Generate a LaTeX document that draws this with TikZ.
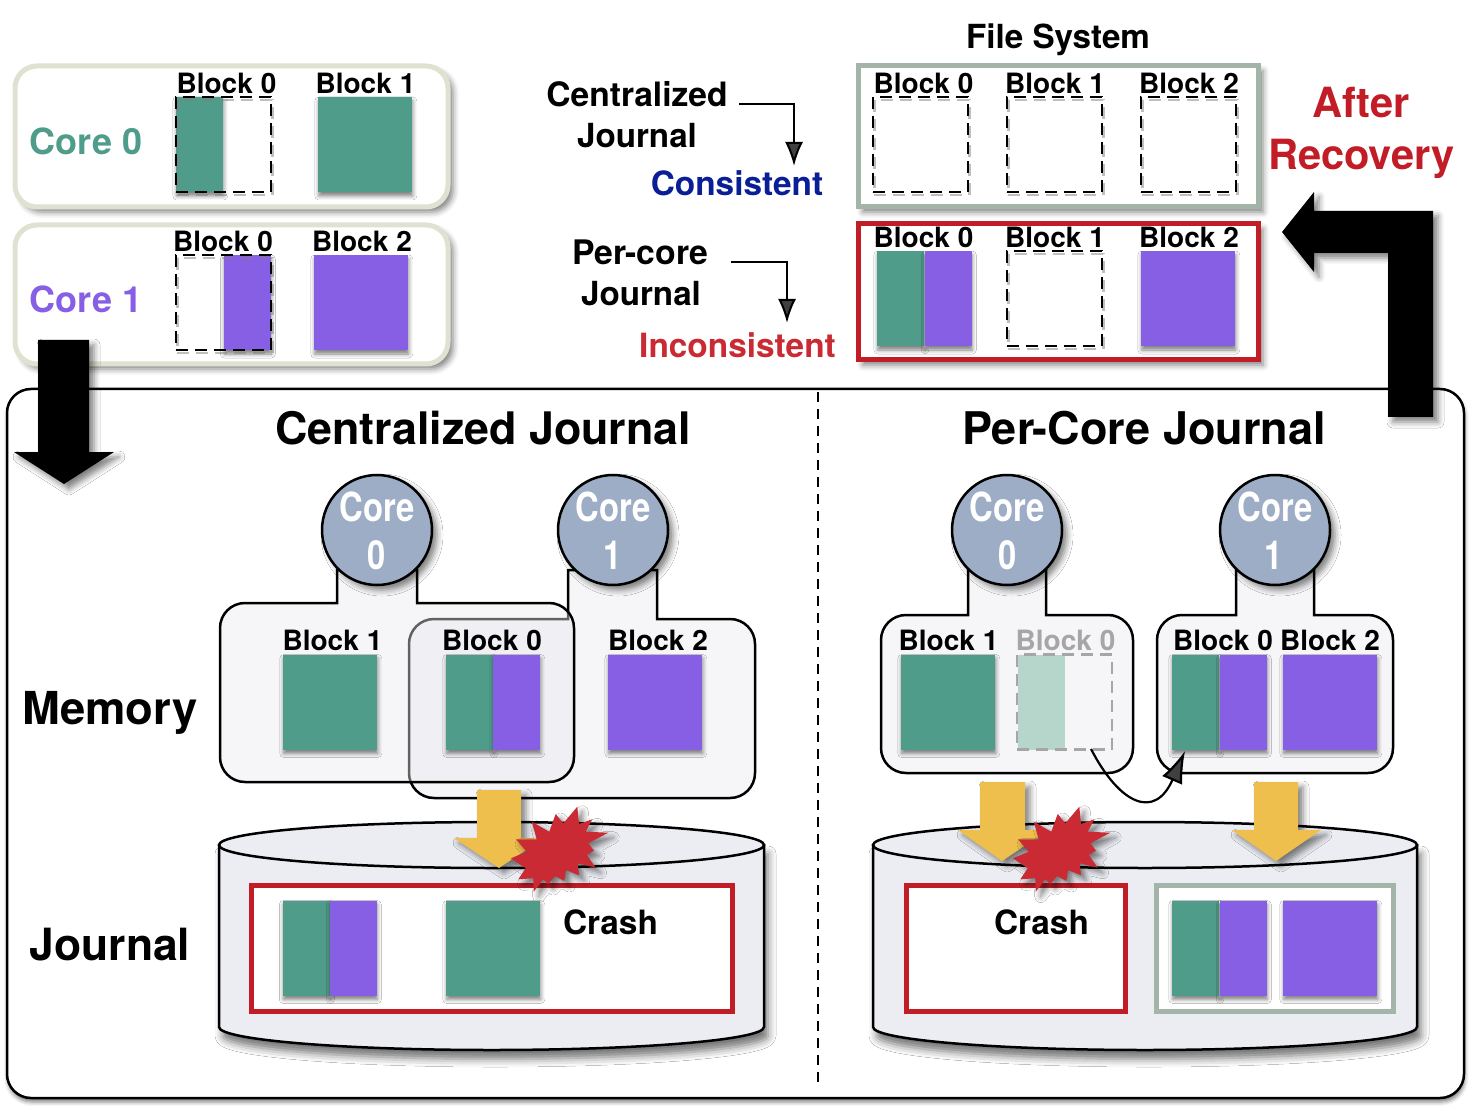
\documentclass[tikz,border=0pt]{standalone}
\usepackage{fontspec}
\setmainfont{TeX Gyre Heros}
\usetikzlibrary{arrows.meta,shadows,shadows.blur}
\definecolor{coregreen}{HTML}{4F9C8A}
\definecolor{corepurple}{HTML}{875FE5}
\definecolor{fadegreen}{HTML}{B6D6CC}
\definecolor{paleolive}{HTML}{DFE2D0}
\definecolor{sagegray}{HTML}{A3B5A8}
\definecolor{crashred}{HTML}{C21C26}
\definecolor{burstred}{HTML}{C92A33}
\definecolor{navytext}{HTML}{0A1F96}
\definecolor{circleblue}{HTML}{9DADC6}
\definecolor{arrowyellow}{HTML}{EFBF4D}
\definecolor{memoryfill}{HTML}{F6F6F9}
\definecolor{overlapfill}{HTML}{EAEAF0}
\definecolor{diskfill}{HTML}{ECEDF2}
\tikzset{
	softshadow/.style={blur shadow={shadow xshift=0.4pt, shadow yshift=-2pt, shadow blur radius=2pt, shadow opacity=50}},
	deepshadow/.style={blur shadow={shadow xshift=2.5pt, shadow yshift=-2.5pt, shadow blur radius=3pt, shadow opacity=50}},
	diskshadow/.style={blur shadow={shadow xshift=2pt, shadow yshift=-4.5pt, shadow blur radius=4pt, shadow opacity=55}},
	labeltext/.style={inner sep=0pt, align=center, font=\bfseries\fontsize{#1}{#1}\selectfont},
	blocklabel/.style={labeltext=14},
	greenblock/.style={fill=coregreen, minimum width=47pt, minimum height=47.5pt, inner sep=0pt, softshadow},
	purpleblock/.style={fill=corepurple, minimum width=47pt, minimum height=47.5pt, inner sep=0pt, softshadow},
	greenhalf/.style={greenblock, minimum width=23.5pt},
	purplehalf/.style={purpleblock, minimum width=23.5pt},
	dashblock/.style={minimum width=47.5pt, minimum height=47.5pt, inner sep=0pt, dash pattern=on 6pt off 3.5pt, line width=1.3pt, draw=black,
		preaction={draw=black!50, draw opacity=0.5, transform canvas={shift={(0.6pt,-1.5pt)}}}},
	corecircle/.style={circle, draw, line width=1.25pt, fill=circleblue, minimum size=55pt, inner sep=0pt, deepshadow},
	corebox/.style={draw=paleolive, line width=2.5pt, fill=white, rounded corners=11pt, deepshadow},
	memorybox/.style={draw, line width=1.25pt, fill=memoryfill},
	overlapbox/.style={draw, line width=1.25pt, fill=overlapfill, fill opacity=0.42},
	diskbody/.style={draw, line width=1.25pt, fill=diskfill},
	bigarrow/.style={fill=black, deepshadow},
	yellowarrow/.style={fill=arrowyellow, deepshadow},
	burstmark/.pic={
		\fill [burstred, deepshadow] (72.3,6.7) -- (74,24) -- (87.3,19.3) -- (80.7,31.7) -- (103.3,32.7) -- (83.3,43.3) -- (89,50.7) -- (81.7,55) -- (90.7,67.7) -- (72.7,63.3) -- (74,75.3) -- (61,70) -- (59.3,81) -- (50,76) -- (43.3,84) -- (38.3,79.3) -- (28.7,91.7) -- (28.3,78.3) -- (13.3,79.3) -- (20.7,68.3) -- (6,58.3) -- (21.7,51.7) -- (11,39.3) -- (31.7,39.3) -- (26.7,21.7) -- (44.3,31.7) -- (50.7,14) -- (58.3,23.3) -- cycle;
	}
}
\newcommand{\thincore}[1]{\scalebox{0.82}[1]{#1}}
\begin{document}
\begin{tikzpicture}[x=0.5pt, y=-0.5pt]
	\useasboundingbox (0,0) rectangle (1470,1106);
	% outer panel
	\draw [line width=1.25pt, fill=white, rounded corners=12pt, softshadow] (7,389) rectangle (1464,1098);
	\coordinate (dividertop) at (818,392);
	\coordinate (dividerbottom) at (818,1082);
	\draw [dash pattern=on 5pt off 3.5pt, line width=0.9pt] (dividertop) -- (dividerbottom);
	\node [labeltext=22.4] (centraltitle) at (483,428) {Centralized Journal};
	\node [labeltext=22.5] (percoretitle) at (1144,428) {Per-Core Journal};
	\node [labeltext=22.7] (memorytext) at (110,713) {Memory};
	\node [labeltext=22.2] (journaltext) at (110,945) {Journal};
	% core 0 and core 1 writes
	\draw [corebox] (15,66) rectangle (448,207);
	\draw [corebox] (15,225) rectangle (448,364);
	\node [labeltext=18, text=coregreen] (coreatext) at (86,141) {Core 0};
	\node [labeltext=18, text=corepurple] (corebtext) at (86,299) {Core 1};
	\node [greenhalf] (corealeft) at (199.5,144.5) {};
	\node [dashblock] (corealabelbox) at (223.5,144.5) {};
	\node [blocklabel] (corealabel) at (226.5,83) {Block 0};
	\node [greenblock] (coreaone) at (365,144.5) {};
	\node [blocklabel] (coreaonelabel) at (365.5,83) {Block 1};
	\node [purplehalf] (corebright) at (247,302.5) {};
	\node [dashblock] (coreblabelbox) at (223.5,302.5) {};
	\node [blocklabel] (coreblabel) at (223,241) {Block 0};
	\node [purpleblock] (corebtwo) at (361,302.5) {};
	\node [blocklabel] (corebtwolabel) at (362,241) {Block 2};
	\fill [bigarrow] (38,340) -- (89,340) -- (89,452) -- (114,452) -- (64,484) -- (14,452) -- (38,452) -- cycle;
	% file system state
	\node [labeltext=16.6] (fstitle) at (1058,40) {File System};
	\draw [draw=sagegray, line width=2.5pt, fill=white, deepshadow] (858,66) rectangle (1258,207);
	\draw [draw=crashred, line width=2.5pt, fill=white, deepshadow] (858,224) rectangle (1258,360);
	\node [dashblock] (fsaa) at (920.5,144.5) {};
	\node [dashblock] (fsab) at (1054.5,144.5) {};
	\node [dashblock] (fsac) at (1188.5,144.5) {};
	\node [blocklabel] (fsaalabel) at (923.5,83) {Block 0};
	\node [blocklabel] (fsablabel) at (1055,83) {Block 1};
	\node [blocklabel] (fsaclabel) at (1189,83) {Block 2};
	\node [greenhalf] (fsbagreen) at (900.5,298.5) {};
	\node [purplehalf] (fsbapurple) at (948,298.5) {};
	\node [dashblock] (fsbb) at (1054.5,298.5) {};
	\node [purpleblock] (fsbc) at (1188,298.5) {};
	\node [blocklabel] (fsbalabel) at (923.5,237) {Block 0};
	\node [blocklabel] (fsbblabel) at (1055,237) {Block 1};
	\node [blocklabel] (fsbclabel) at (1189,237) {Block 2};
	\node [labeltext=16.8] (centralname) at (637,94) {Centralized};
	\node [labeltext=16.6] (centralname2) at (637,136) {Journal};
	\node [labeltext=16.7, text=navytext] (consistenttext) at (737,183) {Consistent};
	\node [labeltext=16.9] (percorename) at (640.5,252) {Per-core};
	\node [labeltext=16.6] (percorename2) at (641,294) {Journal};
	\node [labeltext=16.7, text=burstred] (inconsistenttext) at (737.5,345) {Inconsistent};
	\coordinate (centralstart) at (739,104);
	\coordinate (centralend) at (794,166);
	\coordinate (percorestart) at (731,262);
	\coordinate (percoreend) at (787,323);
	\draw [line width=1pt, -{Latex[length=12pt,width=9pt]}] (centralstart) -| (centralend);
	\draw [line width=1pt, -{Latex[length=12pt,width=9pt]}] (percorestart) -| (percoreend);
	\node [labeltext=20.8, text=crashred] (aftertext) at (1361,103) {After};
	\node [labeltext=20.8, text=crashred] (recoverytext) at (1361.5,159) {Recovery};
	\fill [bigarrow] (1388,417) -- (1388,253) -- (1314,253) -- (1314,272) -- (1282,232) -- (1314,192) -- (1314,211) -- (1433,211) -- (1433,417) -- cycle;
	% centralized journal
	\draw [overlapbox] (568,570) -- (568,619) [rounded corners=12.5pt] -- (409,619) -- (409,798) -- (755,798) -- (755,619) [sharp corners] -- (657,619) -- (657,570) -- cycle;
	\draw [overlapbox] (337,570) -- (337,603) [rounded corners=12.5pt] -- (220,603) -- (220,782) -- (574,782) -- (574,603) [sharp corners] -- (417,603) -- (417,570) -- cycle;
	\node [corecircle] (coreleftA) at (377,530) {};
	\node [corecircle] (coreleftB) at (613,530) {};
	\node [labeltext=20, text=white] (coreleftAtext) at (377,507) {\thincore{Core}};
	\node [labeltext=20, text=white] (coreleftAnum) at (377,555) {\thincore{0}};
	\node [labeltext=20, text=white] (coreleftBtext) at (613,507) {\thincore{Core}};
	\node [labeltext=20, text=white] (coreleftBnum) at (613,555) {\thincore{1}};
	\node [greenblock] (memleftone) at (330,702) {};
	\node [blocklabel] (memleftonelabel) at (332.5,640) {Block 1};
	\node [greenhalf] (memleftzeroa) at (469.5,702) {};
	\node [purplehalf] (memleftzerob) at (516.5,702) {};
	\node [blocklabel] (memleftzerolabel) at (492,640) {Block 0};
	\node [purpleblock] (memlefttwo) at (655,702) {};
	\node [blocklabel] (memlefttwolabel) at (658,640) {Block 2};
	\draw [diskbody, diskshadow] (219,845) -- (219,1027) arc [start angle=180, end angle=360, x radius=136.25pt, y radius=11.5pt] -- (764,845) -- cycle;
	\draw [diskbody] (491.5,845) ellipse [x radius=136.25pt, y radius=11.5pt];
	\fill [yellowarrow] (477,790) -- (521,790) -- (521,838) -- (544,838) -- (499,868) -- (454,838) -- (477,838) -- cycle;
	\draw [draw=crashred, line width=2.5pt, fill=white] (251,885) rectangle (732,1011);
	\pic (crashleft) at (505,800) {burstmark};
	\node [greenhalf] (jleftzeroa) at (306,948) {};
	\node [purplehalf] (jleftzerob) at (353,948) {};
	\node [greenblock] (jleftone) at (493,948) {};
	\node [labeltext=16.7] (crashlefttext) at (610.5,922) {Crash};
	% per-core journal
	\draw [memorybox] (968,570) -- (968,615) [rounded corners=12.5pt] -- (881,615) -- (881,773) -- (1133,773) -- (1133,615) [sharp corners] -- (1046,615) -- (1046,570) -- cycle;
	\draw [memorybox] (1236,570) -- (1236,615) [rounded corners=12.5pt] -- (1157,615) -- (1157,773) -- (1393,773) -- (1393,615) [sharp corners] -- (1314,615) -- (1314,570) -- cycle;
	\node [corecircle] (corerightA) at (1007,530) {};
	\node [corecircle] (corerightB) at (1275,530) {};
	\node [labeltext=20, text=white] (corerightAtext) at (1007,507) {\thincore{Core}};
	\node [labeltext=20, text=white] (corerightAnum) at (1008,555) {\thincore{0}};
	\node [labeltext=20, text=white] (corerightBtext) at (1275,507) {\thincore{Core}};
	\node [labeltext=20, text=white] (corerightBnum) at (1274,555) {\thincore{1}};
	\node [greenblock] (memrightone) at (948,702) {};
	\node [blocklabel] (memrightonelabel) at (948.5,640) {Block 1};
	\node [fill=fadegreen, minimum width=23.5pt, minimum height=47.5pt, inner sep=0pt] (memrightfade) at (1041,702) {};
	\node [minimum width=47.5pt, minimum height=47.5pt, inner sep=0pt, draw=black!35, dash pattern=on 6pt off 3.5pt, line width=1.1pt] (memrightfadebox) at (1064.5,702) {};
	\node [blocklabel, text=black!35] (memrightfadelabel) at (1065.5,640) {Block 0};
	\node [greenhalf] (memrightzeroa) at (1195.5,702) {};
	\node [purplehalf] (memrightzerob) at (1243,702) {};
	\node [blocklabel] (memrightzerolabel) at (1223,640) {Block 0};
	\node [purpleblock] (memrighttwo) at (1330,702) {};
	\node [blocklabel] (memrighttwolabel) at (1330,640) {Block 2};
	\coordinate (movestart) at (1091,749);
	\coordinate (moveend) at (1185,751);
	\draw [line width=1.1pt, -{Latex[length=16pt,width=11pt]}] (movestart) .. controls (1120,805) and (1155,820) .. (moveend);
	\draw [diskbody, diskshadow] (873,845) -- (873,1027) arc [start angle=180, end angle=360, x radius=136pt, y radius=11.5pt] -- (1417,845) -- cycle;
	\draw [diskbody] (1145,845) ellipse [x radius=136pt, y radius=11.5pt];
	\fill [yellowarrow] (980,782) -- (1025,782) -- (1025,830) -- (1048,830) -- (1002,861) -- (958,830) -- (980,830) -- cycle;
	\fill [yellowarrow] (1254,782) -- (1298,782) -- (1298,830) -- (1321,830) -- (1276,861) -- (1232,830) -- (1254,830) -- cycle;
	\draw [draw=crashred, line width=2.5pt, fill=white] (906,885) rectangle (1125,1011);
	\draw [draw=sagegray, line width=2.5pt, fill=white] (1156,885) rectangle (1393,1011);
	\pic (crashright) at (1007,800) {burstmark};
	\node [labeltext=16.7] (crashrighttext) at (1041.5,922) {Crash};
	\node [greenhalf] (jrightzeroa) at (1195.5,948) {};
	\node [purplehalf] (jrightzerob) at (1243,948) {};
	\node [purpleblock] (jrighttwo) at (1330,948) {};
\end{tikzpicture}
\end{document}
